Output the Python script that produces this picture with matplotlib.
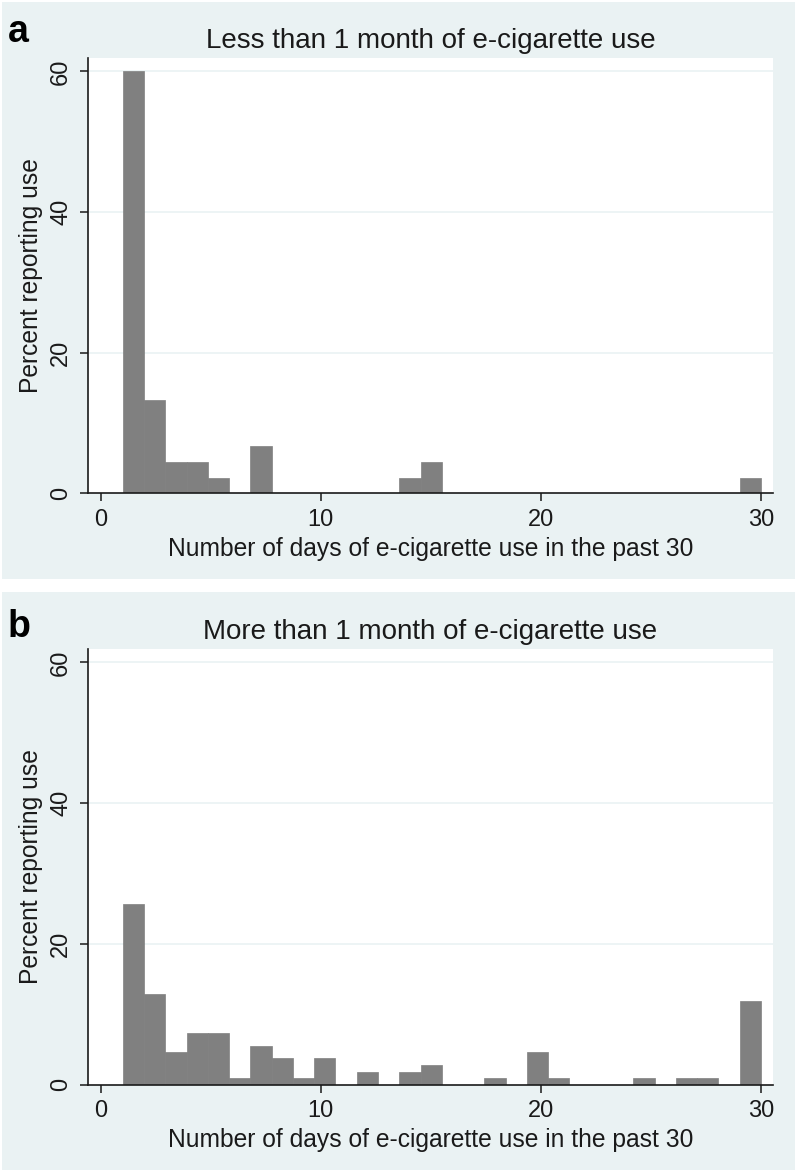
import matplotlib
matplotlib.use("Agg")
import matplotlib.pyplot as plt
from matplotlib.patches import Rectangle
import numpy as np

# Data (percent of respondents per histogram bin, 30 bins spanning days 1-30)
days_min, days_max, n_bins = 1, 30, 30
pct_less_1m = [60.0, 13.3, 4.4, 4.4, 2.2, 0.0, 6.7, 0.0, 0.0, 0.0,
               0.0, 0.0, 0.0, 2.2, 4.4, 0.0, 0.0, 0.0, 0.0, 0.0,
               0.0, 0.0, 0.0, 0.0, 0.0, 0.0, 0.0, 0.0, 0.0, 2.2]
pct_more_1m = [25.7, 12.8, 4.6, 7.3, 7.3, 0.9, 5.5, 3.7, 0.9, 3.7,
               0.0, 1.8, 0.0, 1.8, 2.8, 0.0, 0.0, 0.9, 0.0, 4.6,
               0.9, 0.0, 0.0, 0.0, 0.9, 0.0, 0.9, 0.9, 0.0, 11.9]
titles = ["Less than 1 month of e-cigarette use",
          "More than 1 month of e-cigarette use"]
panel_tags = ["a", "b"]
xticks = [0, 10, 20, 30]
yticks = [0, 20, 40, 60]
xlabel = "Number of days of e-cigarette use in the past 30"
ylabel = "Percent reporting use"

# Style
plt.rcParams["font.family"] = ["Liberation Sans", "DejaVu Sans"]
bg = "#eaf2f3"
bar_color = "#808080"
ink = "#1a1a1a"

W, H = 797, 1172
fig = plt.figure(figsize=(W / 100, H / 100), dpi=100, facecolor="white")

def px_rect(x0, y0, x1, y1):
    # pixel box (top-left origin) -> figure fraction [l, b, w, h]
    return [x0 / W, 1 - y1 / H, (x1 - x0) / W, (y1 - y0) / H]

# panel backgrounds
for (y0, y1) in [(2, 579), (592, 1170)]:
    l, b, w, h = px_rect(2, y0, 795, y1)
    fig.patches.append(Rectangle((l, b), w, h, transform=fig.transFigure,
                                 facecolor=bg, edgecolor="none", zorder=-10))

edges = np.linspace(days_min, days_max, n_bins + 1)
bin_w = edges[1] - edges[0]

axes_boxes = [(88, 58, 773, 493.3), (88, 649, 773, 1084.5)]
tag_y = [42, 637]
series = [pct_less_1m, pct_more_1m]

for i, ax_box in enumerate(axes_boxes):
    ax = fig.add_axes(px_rect(*ax_box))
    ax.set_facecolor("white")
    vals = np.array(series[i])
    keep = vals > 0
    ax.bar(edges[:-1][keep], vals[keep], width=bin_w, align="edge",
           color=bar_color, edgecolor=bar_color, linewidth=0.5, zorder=2)
    ax.set_xlim(-0.58, 30.55)
    ax.set_ylim(0, 61.9)
    ax.set_xticks(xticks)
    ax.set_yticks(yticks)
    for g in yticks[1:]:
        ax.axhline(g, color=bg, linewidth=1.2, zorder=1)
    for s in ["top", "right"]:
        ax.spines[s].set_visible(False)
    for s in ["left", "bottom"]:
        ax.spines[s].set_color(ink)
        ax.spines[s].set_linewidth(1.2)
        ax.spines[s].set_zorder(3)
    ax.tick_params(direction="out", length=5.5, width=1.1, color=ink,
                   labelsize=17, labelcolor=ink, pad=6)
    plt.setp(ax.get_yticklabels(), rotation=90, va="center")
    ax.set_xlabel(xlabel, fontsize=17.7, color=ink, labelpad=4)
    ax.set_ylabel(ylabel, fontsize=17.7, color=ink, labelpad=5)
    ax.set_title(titles[i], fontsize=20, color=ink, pad=7)
    fig.text(8 / W, 1 - tag_y[i] / H, panel_tags[i], fontsize=27,
             fontweight="bold", color="black", ha="left", va="baseline")

fig.savefig("out.png", dpi=100, facecolor="white")
